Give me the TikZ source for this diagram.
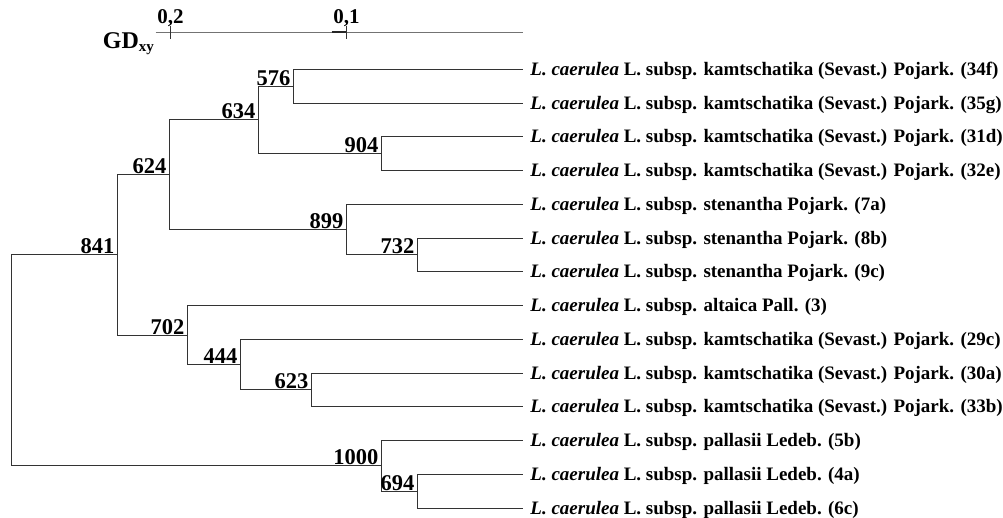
\documentclass[tikz,border=0pt]{standalone}
\usepackage{fontspec}
\setmainfont{Liberation Serif}
\usetikzlibrary{positioning}
\newcommand{\lcae}{\textit{L. caerulea} L. subsp.}
\tikzset{
  branch/.style={draw=black!80, line width=1pt, line cap=rect},
  scaleline/.style={draw=black!55, line width=1pt},
  leaflbl/.style={anchor=base west, inner sep=0pt, xshift=7.7pt, yshift=-6pt, font=\fontsize{19}{21}\selectfont\bfseries},
  bootlbl/.style={anchor=base east, inner sep=0pt, xshift=-3pt, yshift=1pt, font=\fontsize{22.5}{24}\selectfont\bfseries},
  ticklbl/.style={anchor=base, inner sep=0pt, font=\fontsize{21}{23}\selectfont\bfseries}
}

\begin{document}
\begin{tikzpicture}[x=1pt, y=-1pt]
  \useasboundingbox (0,0) rectangle (1003,518);

  % distance scale
  \coordinate (ax0) at (155.5,32.5);
  \coordinate (ax1) at (522.5,32.5);
  \coordinate (tk2) at (170.5,32.5);
  \coordinate (tk1) at (346.5,32.5);
  \coordinate (tk1a) at (331.5,32.5);
  \draw[scaleline] (ax0) -- (ax1);
  \draw[black!85, line width=2pt] (tk1a) -- (tk1);
  \draw[branch, line cap=butt] ([yshift=6pt]tk2) -- ([yshift=-6.5pt]tk2);
  \draw[branch, line cap=butt] ([yshift=6pt]tk1) -- ([yshift=-6.5pt]tk1);
  \node[ticklbl] (v2) at (170.5,24) {0,2};
  \node[ticklbl] (v1) at (346.5,24) {0,1};
  \node[anchor=base west, inner sep=0pt, font=\fontsize{24}{26}\selectfont\bfseries] (gd) at (102.7,48.3)
    {GD\raisebox{-3.5pt}{\fontsize{15}{15}\selectfont xy}};

  % leaf tips
  \foreach \y [count=\i] in {69.5,103.5,136.5,170.5,204.5,238.5,271.5,
                             305.5,339.5,373.5,406.5,440.5,474.5,508.5}
    \coordinate (l\i) at (522.5,\y);

  % inner nodes
  \coordinate (root)  at (11.5,360.5);
  \coordinate (n841)  at (117.5,254.5);
  \coordinate (n624)  at (169.5,174.5);
  \coordinate (n634)  at (258.5,119.5);
  \coordinate (n576)  at (293.5,86.5);
  \coordinate (n904)  at (381.5,153.5);
  \coordinate (n899)  at (346.5,229.5);
  \coordinate (n732)  at (417.5,254.5);
  \coordinate (n702)  at (187.5,335.5);
  \coordinate (n444)  at (240.5,364.5);
  \coordinate (n623)  at (311.5,389.5);
  \coordinate (n1000) at (381.5,465.5);
  \coordinate (n694)  at (417.5,491.5);

  \foreach \p/\c in {root/n841, root/n1000, n841/n624, n841/n702,
                     n624/n634, n624/n899, n634/n576, n634/n904,
                     n576/l1, n576/l2, n904/l3, n904/l4,
                     n899/l5, n899/n732, n732/l6, n732/l7,
                     n702/l8, n702/n444, n444/l9, n444/n623,
                     n623/l10, n623/l11, n1000/l12, n1000/n694,
                     n694/l13, n694/l14}
    \draw[branch] (\p) |- (\c);

  % bootstrap values
  \foreach \n in {841,624,634,576,904,899,732,702,444,623,1000,694}
    \node[bootlbl] (b\n) at (n\n) {\n};

  % taxa
  \node[leaflbl] (t1)  at (l1)  {\lcae{} kamtschatika (Sevast.) Pojark. (34f)};
  \node[leaflbl] (t2)  at (l2)  {\lcae{} kamtschatika (Sevast.) Pojark. (35g)};
  \node[leaflbl] (t3)  at (l3)  {\lcae{} kamtschatika (Sevast.) Pojark. (31d)};
  \node[leaflbl] (t4)  at (l4)  {\lcae{} kamtschatika (Sevast.) Pojark. (32e)};
  \node[leaflbl] (t5)  at (l5)  {\lcae{} stenantha Pojark. (7a)};
  \node[leaflbl] (t6)  at (l6)  {\lcae{} stenantha Pojark. (8b)};
  \node[leaflbl] (t7)  at (l7)  {\lcae{} stenantha Pojark. (9c)};
  \node[leaflbl] (t8)  at (l8)  {\lcae{} altaica Pall. (3)};
  \node[leaflbl] (t9)  at (l9)  {\lcae{} kamtschatika (Sevast.) Pojark. (29c)};
  \node[leaflbl] (t10) at (l10) {\lcae{} kamtschatika (Sevast.) Pojark. (30a)};
  \node[leaflbl] (t11) at (l11) {\lcae{} kamtschatika (Sevast.) Pojark. (33b)};
  \node[leaflbl] (t12) at (l12) {\lcae{} pallasii Ledeb. (5b)};
  \node[leaflbl] (t13) at (l13) {\lcae{} pallasii Ledeb. (4a)};
  \node[leaflbl] (t14) at (l14) {\lcae{} pallasii Ledeb. (6c)};
\end{tikzpicture}
\end{document}
